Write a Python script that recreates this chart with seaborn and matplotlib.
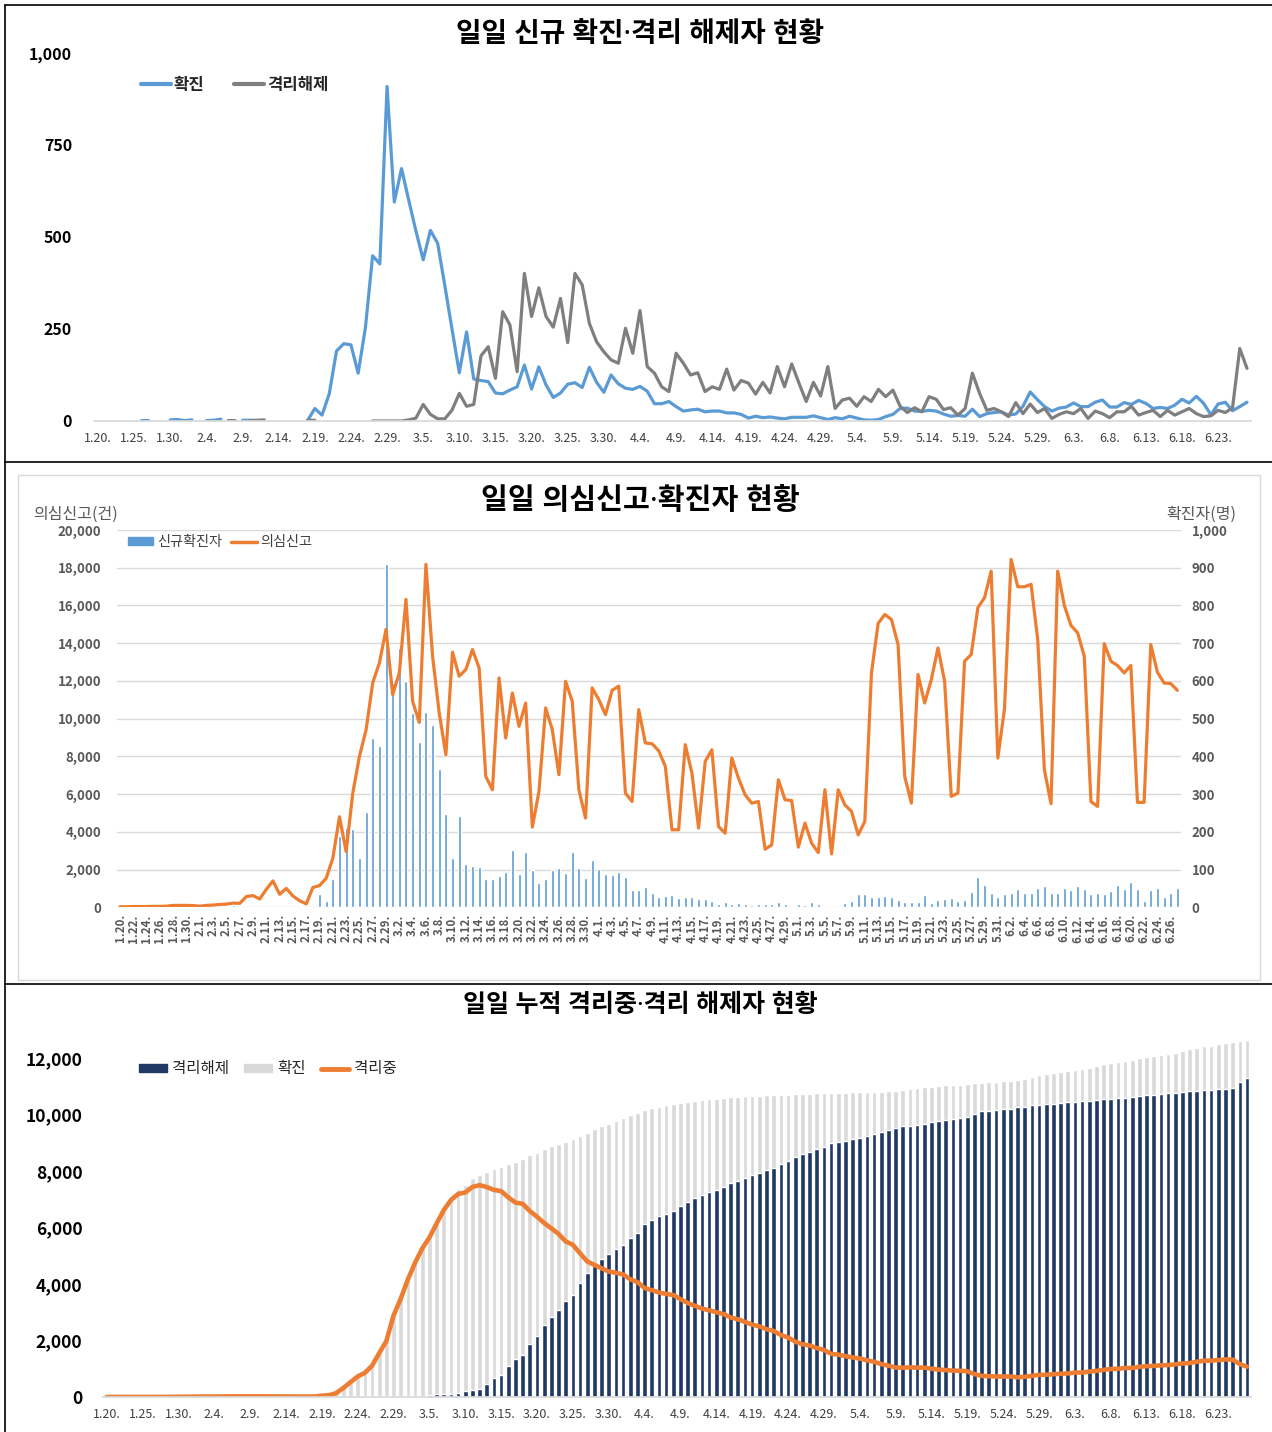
import numpy as np
import pandas as pd
import matplotlib
matplotlib.use("Agg")
import matplotlib.pyplot as plt
from matplotlib.lines import Line2D
from matplotlib.patches import Patch, Rectangle
import seaborn as sns

W, H = 1272, 1432

# one value per day, 2020.1.20 ~ 6.27
dates = pd.date_range("2020-01-20", "2020-06-27", freq="D")
day_labels = [f"{d.month}.{d.day}." for d in dates]

N = None  # blank cell in the source sheet

# daily new confirmed (확진)
confirmed_daily = (
    [1, N, N, N, 1, N, 1, 1, N, N, 3, 4]  # Jan 20-31
    + [1, 3, N, 1, 2, 5, N, N, 2, 2, 1, N, N, N, N, N, N, 1,
       34, 16, 74, 190, 210, 207, 130, 253, 449, 427]  # Feb 1-28
    + [909]  # Feb 29
    + [595, 686, 600, 516, 438, 518, 483, 367, 248, 131,
       242, 114, 110, 107, 76, 74, 84, 93, 152, 87,
       147, 98, 64, 76, 100, 104, 91, 146, 105, 78, 125]
    + [101, 89, 86, 94, 81, 47, 47, 53, 39, 27,
       30, 32, 25, 27, 27, 22, 22, 18, 8, 13,
       9, 11, 8, 6, 10, 10, 10, 14, 9, 4]
    + [9, 6, 13, 8, 3, 2, 4, 12, 18, 34,
       35, 27, 26, 29, 27, 19, 13, 15, 13, 32,
       12, 20, 23, 25, 16, 19, 40, 79, 58, 39, 27]
    + [35, 38, 49, 39, 39, 51, 57, 38, 38, 50,
       45, 56, 48, 34, 37, 34, 43, 59, 49, 67,
       48, 17, 46, 51, 28, 39, 51]
)

# daily released from isolation (격리해제)
released_daily = (
    [N] * 12
    + [N, N, N, N, N, N, 1, 1, N, 1, 2, 3, N, 2, N, 1, N, 2,
       2, N, N, 6, N, 3, N, N, 0, 0]
    + [0]
    + [0, 0, 3, 8, 45, 18, 6, 6, 30, 75,
       40, 45, 177, 202, 116, 297, 261, 134, 401, 284,
       362, 284, 255, 333, 213, 401, 370, 265, 215, 188, 166]
    + [157, 252, 184, 300, 148, 130, 93, 80, 184, 157,
       125, 131, 80, 93, 86, 141, 84, 110, 103, 73,
       105, 76, 148, 93, 155, 103, 53, 105, 68, 148]
    + [34, 57, 62, 40, 66, 53, 86, 66, 84, 40,
       23, 36, 25, 66, 59, 31, 36, 16, 34, 130,
       75, 29, 34, 25, 12, 50, 20, 46, 23, 34, 7]
    + [18, 25, 20, 34, 7, 27, 20, 9, 25, 25,
       40, 16, 23, 29, 12, 29, 16, 25, 34, 20,
       12, 14, 29, 23, 36, 197, 143]
)

# cumulative deaths (not drawn, needed for 격리중)
deaths_cum = (
    [0] * 31
    + [1, 2, 2, 6, 8, 10, 12, 13, 13]
    + [16]
    + [17, 22, 28, 32, 35, 42, 44, 50, 51, 54,
       60, 66, 67, 72, 75, 75, 81, 84, 91, 94,
       102, 104, 111, 120, 126, 131, 139, 144, 152, 158, 162]
    + [165, 169, 174, 177, 183, 186, 192, 200, 204, 208,
       211, 214, 217, 222, 225, 229, 230, 232, 234, 236,
       237, 238, 240, 240, 240, 242, 243, 244, 246, 247]
    + [247, 250, 250, 252, 254, 255, 256, 256, 256, 256,
       256, 256, 258, 259, 260, 262, 262, 263, 263, 263,
       264, 264, 264, 266, 267, 269, 269, 269, 269, 270, 270]
    + [272, 272, 273, 273, 273, 273, 273, 273, 276, 276,
       276, 277, 277, 277, 277, 277, 278, 279, 280, 280,
       280, 280, 280, 281, 282, 282, 282]
)

# daily suspected-case reports (의심신고)
suspected_daily = (
    [30, 30, 40, 40, 40, 50, 50, 60, 100, 100, 100, 90]
    + [60, 100, 120, 150, 170, 220, 210, 570, 620, 440, 950, 1400, 690, 1000,
       600, 350, 180, 1050, 1150, 1540, 2600, 4800, 2950, 6050, 8000, 9400,
       11900, 12950]
    + [14730]
    + [11275, 12425, 16320, 10920, 9800, 18180, 13310, 10300, 8090, 13520,
       12250, 12600, 13660, 12690, 6940, 6230, 12160, 8970, 11360, 9590,
       10830, 4250, 6140, 10570, 9420, 7030, 11980, 10920, 6230, 4730, 11630]
    + [11010, 10210, 11505, 11720, 6050, 5610, 10480, 8710, 8670, 8300,
       7470, 4110, 4110, 8620, 7115, 4200, 7735, 8350, 4280, 3930,
       7910, 6850, 5960, 5520, 5610, 3080, 3310, 6760, 5700, 5660]
    + [3190, 4460, 3400, 2900, 6230, 2830, 6230, 5430, 5080, 3840,
       4550, 12425, 15045, 15520, 15260, 13930, 6940, 5520, 12340, 10830,
       12070, 13750, 11980, 5880, 6050, 13045, 13400, 15880, 16410, 17820, 7910]
    + [10510, 18440, 16990, 16990, 17120, 14195, 7290, 5490, 17820, 16000,
       14940, 14550, 13310, 5610, 5345, 13980, 13045, 12815, 12425, 12815,
       5560, 5560, 13930, 12460, 11890, 11860, 11500]
)

for s in (confirmed_daily, released_daily, deaths_cum, suspected_daily):
    assert len(s) == len(dates), len(s)

conf = np.array(confirmed_daily, dtype=float)
rel = np.array(released_daily, dtype=float)
conf_cum = np.cumsum(np.nan_to_num(conf))
rel_cum = np.cumsum(np.nan_to_num(rel))
isolated = conf_cum - rel_cum - np.array(deaths_cum)
idx = np.arange(len(dates))

BLUE = "#5B9BD5"
GRAY = "#7F7F7F"
ORANGE = "#ED7D31"
NAVY = "#1F3864"
LIGHT = "#D9D9D9"
TXT = "#595959"

sns.set_theme(style="white")
plt.rcParams["font.family"] = ["Noto Sans CJK KR", "DejaVu Sans"]
plt.rcParams["axes.unicode_minus"] = False
# titles: narrow middle dot from Noto Sans, hangul from the CJK face
TITLE_FONT = ["Noto Sans", "Noto Sans CJK KR"]


def rect(x0, x1, y_top, y_bot):
    # pixel box -> figure fraction
    return [x0 / W, 1 - y_bot / H, (x1 - x0) / W, (y_bot - y_top) / H]


def fx(x):
    return x / W


def fy(y):
    return 1 - y / H


fig = plt.figure(figsize=(W / 100, H / 100), dpi=100)

# ---------------- top: daily confirmed / released ----------------
ax1 = fig.add_axes(rect(94.4, 1250.6, 53, 421))
ax1.plot(idx, conf, color=BLUE, lw=2.3, solid_joinstyle="round", solid_capstyle="round")
ax1.plot(idx, rel, color=GRAY, lw=2.3, solid_joinstyle="round", solid_capstyle="round")
ax1.set_xlim(-0.5, len(dates) - 0.5)
ax1.set_ylim(0, 1000)
ax1.set_yticks([0, 250, 500, 750, 1000])
ax1.set_yticklabels(["0", "250", "500", "750", "1,000"])
ax1.set_xticks(idx[::5])
ax1.set_xticklabels(day_labels[::5])
for sp in ["top", "left", "right"]:
    ax1.spines[sp].set_visible(False)
ax1.spines["bottom"].set_color(LIGHT)
ax1.tick_params(axis="y", length=0, pad=16, labelsize=11.5, labelcolor="black")
ax1.tick_params(axis="x", length=4, color="#BFBFBF", pad=4, labelsize=9, labelcolor="#404040")
for t in ax1.get_yticklabels():
    t.set_fontweight("bold")
ax1.grid(False)

fig.text(fx(640), fy(35), "일일 신규 확진·격리 해제자 현황", ha="center", va="center",
         fontsize=20, fontweight="bold", color="black", family=TITLE_FONT)
fig.legend([Line2D([], [], color=BLUE, lw=3), Line2D([], [], color=GRAY, lw=3)],
           ["확진", "격리해제"], loc="center left", bbox_to_anchor=(fx(126), fy(85)),
           bbox_transform=fig.transFigure, ncol=2, frameon=False,
           prop={"size": 12, "weight": "bold"}, handlelength=1.8, handletextpad=0.15,
           columnspacing=1.8)

# ---------------- middle: suspected reports / new confirmed ----------------
fig.add_artist(Rectangle((fx(18), fy(980)), (1260 - 18) / W, (980 - 475) / H,
                         transform=fig.transFigure, fill=False, edgecolor=LIGHT, lw=1))
ax2 = fig.add_axes(rect(116.7, 1180.7, 530, 907.3))
ax2b = ax2.twinx()
sns.barplot(x=idx, y=np.nan_to_num(conf), ax=ax2b, color=BLUE, width=0.45,
            saturation=1, errorbar=None)
sns.lineplot(x=idx, y=suspected_daily, ax=ax2, color=ORANGE, lw=2.3)
ax2.set_zorder(ax2b.get_zorder() + 1)
ax2.patch.set_visible(False)
ax2.set_xlim(-0.5, len(dates) - 0.5)
ax2b.set_xlim(-0.5, len(dates) - 0.5)
ax2.set_ylim(0, 20000)
ax2b.set_ylim(0, 1000)
ax2.set_yticks(range(0, 20001, 2000))
ax2.set_yticklabels([f"{v:,}" for v in range(0, 20001, 2000)])
ax2b.set_yticks(range(0, 1001, 100))
ax2b.set_yticklabels([f"{v:,}" for v in range(0, 1001, 100)])
ax2b.grid(axis="y", color=LIGHT, lw=1)
ax2b.set_axisbelow(True)
ax2.grid(False)
ax2.set_xticks(idx[::2])
ax2.set_xticklabels(day_labels[::2], rotation=90)
for a in (ax2, ax2b):
    a.set_xlabel("")
    a.set_ylabel("")
    for sp in a.spines.values():
        sp.set_visible(False)
ax2.tick_params(axis="y", length=0, pad=11, labelsize=9.5, labelcolor=TXT)
ax2b.tick_params(axis="y", length=0, pad=8, labelsize=9.5, labelcolor=TXT)
ax2.tick_params(axis="x", length=0, pad=5, labelsize=8.3, labelcolor=TXT)
for t in ax2.get_yticklabels() + ax2b.get_yticklabels() + ax2.get_xticklabels():
    t.set_fontweight("bold")

fig.text(fx(640), fy(501), "일일 의심신고·확진자 현황", ha="center", va="center",
         fontsize=21, fontweight="bold", color="black", family=TITLE_FONT)
fig.text(fx(76), fy(514), "의심신고(건)", ha="center", va="center", fontsize=11.5, color=TXT)
fig.text(fx(1201), fy(514), "확진자(명)", ha="center", va="center", fontsize=11.5, color=TXT)
fig.legend([Patch(color=BLUE), Line2D([], [], color=ORANGE, lw=2.5)],
           ["신규확진자", "의심신고"], loc="center left", bbox_to_anchor=(fx(115), fy(542)),
           bbox_transform=fig.transFigure, ncol=2, frameon=False,
           prop={"size": 10.2}, labelcolor="#404040", handlelength=1.8, handleheight=0.45,
           handletextpad=0.3, columnspacing=0.6)

# ---------------- bottom: cumulative confirmed / released / isolated ----------------
ax3 = fig.add_axes(rect(103.1, 1250.6, 1029.8, 1397))
sns.barplot(x=idx, y=conf_cum, ax=ax3, color=LIGHT, width=0.65, saturation=1, errorbar=None)
sns.barplot(x=idx, y=rel_cum, ax=ax3, color=NAVY, width=0.65, saturation=1, errorbar=None)
sns.lineplot(x=idx, y=isolated, ax=ax3, color=ORANGE, lw=3.3)
ax3.set_xlim(-0.5, len(dates) - 0.5)
ax3.set_ylim(0, 13000)
ax3.set_yticks(range(0, 12001, 2000))
ax3.set_yticklabels([f"{v:,}" for v in range(0, 12001, 2000)])
ax3.set_xticks(idx[::5])
ax3.set_xticklabels(day_labels[::5])
ax3.set_xlabel("")
ax3.set_ylabel("")
ax3.grid(False)
for sp in ["top", "left", "right"]:
    ax3.spines[sp].set_visible(False)
ax3.spines["bottom"].set_color(LIGHT)
ax3.tick_params(axis="y", length=0, pad=15, labelsize=12.5, labelcolor="black")
ax3.tick_params(axis="x", length=0, pad=8, labelsize=9, labelcolor="#404040")
for t in ax3.get_yticklabels():
    t.set_fontweight("bold")

fig.text(fx(640), fy(1006), "일일 누적 격리중·격리 해제자 현황", ha="center", va="center",
         fontsize=18, fontweight="bold", color="black", family=TITLE_FONT)
fig.legend([Patch(color=NAVY), Patch(color=LIGHT), Line2D([], [], color=ORANGE, lw=3.5)],
           ["격리해제", "확진", "격리중"], loc="center left", bbox_to_anchor=(fx(125), fy(1069)),
           bbox_transform=fig.transFigure, ncol=3, frameon=False,
           prop={"size": 11.2}, labelcolor="#262626", handlelength=1.8, handleheight=0.5,
           handletextpad=0.3, columnspacing=1.0)

# ---------------- panel borders ----------------
for y in (5, 462, 984):
    fig.add_artist(Line2D([fx(5), 1], [fy(y), fy(y)], transform=fig.transFigure,
                          color="black", lw=1.2))
fig.add_artist(Line2D([fx(5), fx(5)], [fy(5), 0], transform=fig.transFigure,
                      color="black", lw=1.2))

fig.savefig("out.png", dpi=100)
